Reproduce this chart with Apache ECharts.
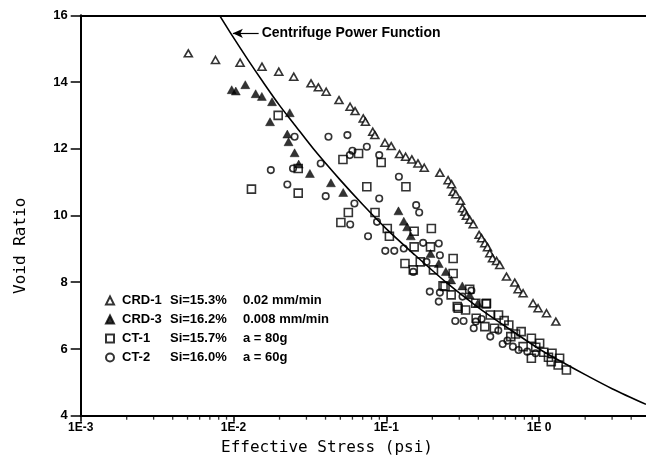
<!DOCTYPE html>
<html>
<head>
<meta charset="utf-8">
<script src="https://cdn.jsdelivr.net/npm/echarts@6/dist/echarts.min.js"></script>
<style>html,body{margin:0;padding:0;background:#fff;}#c{width:646px;height:461px;}</style>
</head>
<body>
<div id="c"></div>
<script>
// ---- data ----
const seriesNames = ['CRD-1', 'CRD-3', 'CT-1', 'CT-2'];
const seriesSi = ['Si=15.3%', 'Si=16.2%', 'Si=15.7%', 'Si=16.0%'];
const seriesCond = ['0.02 mm/min', '0.008 mm/min', 'a = 80g', 'a = 60g'];

const crd1 = [[0.00506,14.86],[0.00762,14.66],[0.01104,14.58],[0.01535,14.46],[0.01977,14.31],[0.02477,14.16],[0.03214,13.96],[0.0359,13.84],[0.0404,13.71],[0.049,13.46],[0.0579,13.26],[0.0624,13.13],[0.0706,12.91],[0.073,12.81],[0.0815,12.51],[0.0841,12.41],[0.0979,12.18],[0.1076,12.08],[0.1219,11.84],[0.1337,11.76],[0.1468,11.68],[0.161,11.56],[0.177,11.43],[0.224,11.28],[0.2535,11.06],[0.267,10.94],[0.2735,10.71],[0.2846,10.64],[0.3055,10.44],[0.315,10.22],[0.326,10.11],[0.334,9.99],[0.3515,9.87],[0.37,9.74],[0.4045,9.42],[0.4196,9.32],[0.4406,9.17],[0.459,9.05],[0.475,8.87],[0.495,8.72],[0.526,8.64],[0.552,8.52],[0.611,8.17],[0.692,7.99],[0.728,7.79],[0.785,7.67],[0.912,7.37],[0.984,7.22],[1.117,7.07],[1.285,6.82]];

const crd3 = [[0.00973,13.77],[0.01035,13.73],[0.01194,13.92],[0.01396,13.65],[0.01532,13.57],[0.01786,13.41],[0.01733,12.81],[0.02333,13.08],[0.02249,12.44],[0.0229,12.21],[0.0251,11.88],[0.0267,11.54],[0.0316,11.26],[0.0434,10.98],[0.0522,10.69],[0.12,10.14],[0.13,9.83],[0.1368,9.66],[0.1445,9.39],[0.1945,8.86],[0.2203,8.56],[0.245,8.32],[0.2655,8.07],[0.314,7.89],[0.351,7.62],[0.397,7.37]];

const ct1 = [[0.0196,13.0],[0.0131,10.79],[0.0265,11.41],[0.0265,10.67],[0.052,11.68],[0.0658,11.86],[0.0925,11.59],[0.0745,10.86],[0.1343,10.86],[0.0564,10.09],[0.0504,9.79],[0.0843,10.09],[0.1014,9.61],[0.1047,9.38],[0.152,9.53],[0.197,9.61],[0.152,9.06],[0.1324,8.56],[0.15,8.37],[0.1667,8.61],[0.1945,9.06],[0.2033,8.37],[0.2735,8.71],[0.2735,8.26],[0.242,7.87],[0.2655,7.62],[0.291,7.27],[0.33,7.17],[0.351,7.79],[0.3846,7.37],[0.4498,7.35],[0.4786,7.02],[0.542,7.02],[0.6326,6.72],[0.509,6.62],[0.762,6.52],[0.652,6.37],[0.889,6.32],[0.785,6.07],[1.007,6.17],[1.071,5.9],[0.889,5.72],[1.213,5.87],[1.2,5.62],[1.331,5.52],[1.36,5.72],[1.507,5.37],[0.235,7.89],[0.295,7.22],[0.452,7.37],[0.387,6.92],[0.441,6.67],[0.59,6.85],[0.7,6.45],[0.95,6.05],[1.15,5.75]];

const ct2 = [[0.01754,11.36],[0.0225,10.93],[0.0251,12.36],[0.0245,11.41],[0.0372,11.56],[0.0401,10.58],[0.0418,12.36],[0.0556,12.41],[0.06,11.94],[0.0577,11.81],[0.0745,12.06],[0.0898,11.81],[0.1208,11.16],[0.0898,10.51],[0.0618,10.36],[0.058,9.73],[0.0759,9.38],[0.0869,9.81],[0.0984,8.94],[0.1127,8.94],[0.13,9.01],[0.1567,10.31],[0.164,10.09],[0.15,8.31],[0.174,9.18],[0.183,8.61],[0.2203,9.16],[0.224,8.81],[0.1924,7.72],[0.2203,7.42],[0.224,7.69],[0.2825,6.84],[0.32,6.84],[0.373,6.62],[0.385,6.82],[0.4786,6.37],[0.577,6.15],[0.54,6.55],[0.673,6.07],[0.733,5.97],[0.836,5.92],[0.947,5.87],[0.315,7.57],[0.36,7.75],[0.42,6.9],[0.62,6.25]];

// centrifuge power function curve
const curveX = [0.0081,0.01,0.0125,0.0156,0.02,0.025,0.0333,0.05,0.07,0.1,0.15,0.25,0.4,0.6,1.0,1.5,2.0,3.0,5.0];
const curveY = [16.0,15.33,14.65,14.0,13.3,12.73,12.0,11.06,10.33,9.6,8.86,7.97,7.24,6.68,6.0,5.54,5.23,4.81,4.34];

const xTickValues = [0.001, 0.01, 0.1, 1];
const xTickLabels = ['1E-3', '1E-2', '1E-1', '1E 0'];
const xMinorTicks = [0.002,0.003,0.004,0.005,0.006,0.007,0.008,0.009,0.02,0.03,0.04,0.05,0.06,0.07,0.08,0.09,0.2,0.3,0.4,0.5,0.6,0.7,0.8,0.9,2,3,4];

// ---- chart ----
const SANS = "'Liberation Sans',Arial,sans-serif";
const MONO = "'DejaVu Sans Mono',monospace";
const chart = echarts.init(document.getElementById('c'), null, {renderer: 'canvas'});

const curveData = curveX.map((x, i) => [x, curveY[i]]);
const markerStyles = [
  {symbol: 'triangle', symbolSize: [8, 7], itemStyle: {color: '#fff', borderColor: '#000', borderWidth: 1.6}},
  {symbol: 'triangle', symbolSize: [9, 8], itemStyle: {color: '#000', borderColor: '#000', borderWidth: 0.5}},
  {symbol: 'rect', symbolSize: 8, itemStyle: {color: 'rgba(255,255,255,0)', borderColor: '#000', borderWidth: 1.6}},
  {symbol: 'circle', symbolSize: 6.5, itemStyle: {color: 'rgba(255,255,255,0)', borderColor: '#000', borderWidth: 1.6}}
];
const seriesData = [crd1, crd3, ct1, ct2];

const option = {
  animation: false,
  backgroundColor: '#fff',
  grid: {left: 80.7, right: 0, top: 15.3, bottom: 45.3, containLabel: false},
  xAxis: [{
    type: 'log', logBase: 10, min: 0.001, max: 5,
    axisLine: {show: true, lineStyle: {color: '#000', width: 2}},
    axisTick: {show: true, inside: false, length: 6, lineStyle: {color: '#000', width: 1.5}, customValues: xTickValues},
    axisLabel: {
      customValues: xTickValues,
      margin: 6,
      color: '#000', fontFamily: SANS, fontWeight: 'bold', fontSize: 12,
      formatter: v => { const i = xTickValues.findIndex(t => Math.abs(Math.log10(t) - Math.log10(v)) < 1e-6); return i >= 0 ? xTickLabels[i] : ''; }
    },
    splitLine: {show: false}, minorTick: {show: false}
  }, {
    type: 'log', logBase: 10, min: 0.001, max: 5, position: 'top',
    axisLine: {show: true, lineStyle: {color: '#000', width: 2}},
    axisTick: {show: false}, axisLabel: {show: false}, splitLine: {show: false}
  }],
  yAxis: {
    type: 'value', min: 4, max: 16, interval: 2,
    axisLine: {show: true, lineStyle: {color: '#000', width: 2}},
    axisTick: {show: true, inside: false, length: 10, lineStyle: {color: '#000', width: 1.5}},
    axisLabel: {margin: 13, color: '#000', fontFamily: SANS, fontWeight: 'bold', fontSize: 13},
    splitLine: {show: false}
  },
  legend: {
    show: true, orient: 'vertical', left: 100, top: 287,
    itemWidth: 8, itemHeight: 8, itemGap: 2,
    data: seriesNames,
    textStyle: {
      color: '#000', fontFamily: SANS, fontWeight: 'bold', fontSize: 13, lineHeight: 17,
      rich: {
        a: {width: 48, padding: [0, 0, 0, 3], fontFamily: SANS, fontWeight: 'bold', fontSize: 13},
        b: {width: 73, fontFamily: SANS, fontWeight: 'bold', fontSize: 13},
        c: {fontFamily: SANS, fontWeight: 'bold', fontSize: 13}
      }
    },
    formatter: name => { const i = seriesNames.indexOf(name); return '{a|' + name + '}{b|' + seriesSi[i] + '}{c|' + seriesCond[i] + '}'; }
  },
  graphic: [
    {type: 'text', left: 221, top: 440, style: {text: 'Effective Stress (psi)', font: '16px ' + MONO, fill: '#000'}},
    {type: 'text', x: 13, y: 294, rotation: Math.PI / 2, style: {text: 'Void Ratio', font: '16px ' + MONO, fill: '#000'}}
  ],
  series: [
    {
      name: 'Centrifuge Power Function', type: 'line', data: curveData, smooth: 0.3,
      showSymbol: false, symbol: 'none', silent: true, clip: true,
      lineStyle: {color: '#000', width: 1.6}, z: 1,
      markLine: {
        silent: true, animation: false,
        symbol: ['arrow', 'none'], symbolSize: [7, 10],
        lineStyle: {color: '#000', width: 1.2, type: 'solid'},
        label: {show: true, position: 'end', distance: 3, formatter: 'Centrifuge Power Function', color: '#000', fontFamily: SANS, fontWeight: 'bold', fontSize: 14},
        data: [[{coord: [0.0099, 15.46]}, {coord: [0.0146, 15.46]}]]
      }
    },
    ...seriesData.map((d, i) => Object.assign({
      name: seriesNames[i], type: 'scatter', data: d, clip: false, z: 3
    }, markerStyles[i])),
    {
      name: 'minor', type: 'scatter', data: xMinorTicks.map(v => [v, 4]), silent: true, clip: false,
      symbol: 'rect', symbolSize: [1.3, 4], symbolOffset: [0, 2], itemStyle: {color: '#000'}, z: 5
    }
  ]
};
chart.setOption(option);
</script>
</body>
</html>
